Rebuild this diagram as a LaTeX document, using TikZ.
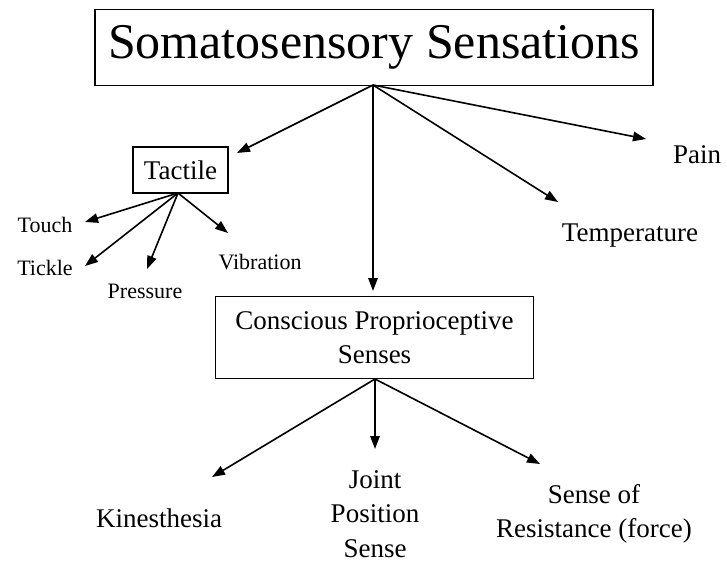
\documentclass[tikz,border=0pt]{standalone}
\usepackage{fontspec}
\setmainfont{Liberation Serif}
\usetikzlibrary{arrows.meta}
\begin{document}
\begin{tikzpicture}[x=1pt,y=-1pt,
  boxnode/.style={draw, line width=1.5pt, align=center, inner sep=0pt},
  lbl/.style={align=center, inner sep=0pt},
  conn/.style={line width=1.6pt, -{Triangle[length=13pt,width=9.5pt]}},
  big/.style={font=\fontsize{50}{56}\selectfont},
  mid/.style={font=\fontsize{27}{34.5}\selectfont},
  small/.style={font=\fontsize{22}{26}\selectfont}]
\useasboundingbox (0,0) rectangle (727,562);
\fill[white] (0,0) rectangle (727,562);

% main nodes
\node[boxnode, big, minimum width=558pt, minimum height=76pt] (title) at (374,47.5) {Somatosensory Sensations};
\node[boxnode, mid, minimum width=95pt, minimum height=46pt] (tactile) at (180.5,170) {Tactile};
\node[boxnode, mid, minimum width=318pt, minimum height=82pt] (cons) at (374.5,337.5) {Conscious Proprioceptive\\Senses};

% labels
\node[lbl, mid] (pain) at (697,155) {Pain};
\node[lbl, mid] (temp) at (630,236) {Temperature};
\node[lbl, small] (touch) at (45,225) {Touch};
\node[lbl, small] (tickle) at (45,268) {Tickle};
\node[lbl, small] (press) at (145,291) {Pressure};
\node[lbl, small] (vib) at (260,262) {Vibration};
\node[lbl, mid] (kin) at (159,518) {Kinesthesia};
\node[lbl, mid] (joint) at (375,514) {Joint\\Position\\Sense};
\node[lbl, mid] (resist) at (594,514) {Sense of\\Resistance (force)};

% arrow end points
\coordinate (j1) at (373,85);
\coordinate (j2) at (178,193);
\coordinate (j3) at (375,379);
\coordinate (eTac) at (237,153);
\coordinate (eCons) at (373,291);
\coordinate (eTemp) at (558,202);
\coordinate (ePain) at (646,139);
\coordinate (eTouch) at (85,222);
\coordinate (eTickle) at (85,266);
\coordinate (ePress) at (147,269);
\coordinate (eVib) at (228,233);
\coordinate (eKin) at (212,477);
\coordinate (eJoint) at (375,449);
\coordinate (eRes) at (540,464);

\draw[conn] (j1) -- (eTac);
\draw[conn] (j1) -- (eCons);
\draw[conn] (j1) -- (eTemp);
\draw[conn] (j1) -- (ePain);
\draw[conn] (j2) -- (eTouch);
\draw[conn] (j2) -- (eTickle);
\draw[conn] (j2) -- (ePress);
\draw[conn] (j2) -- (eVib);
\draw[conn] (j3) -- (eKin);
\draw[conn] (j3) -- (eJoint);
\draw[conn] (j3) -- (eRes);
\end{tikzpicture}
\end{document}
